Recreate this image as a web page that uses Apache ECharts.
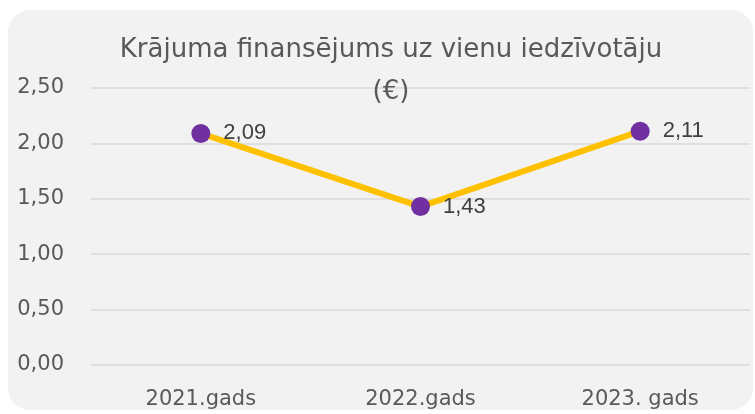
<!DOCTYPE html>
<html>
<head>
<meta charset="utf-8">
<script src="https://cdn.jsdelivr.net/npm/echarts@6/dist/echarts.min.js"></script>
<style>
  html, body { margin: 0; padding: 0; background: #fff; }
  .card {
    position: absolute; left: 8px; top: 10px;
    width: 745px; height: 400px;
    background: #f2f2f2; border-radius: 22px;
  }
  #chart { position: absolute; left: 0; top: 0; width: 755px; height: 414px; }
</style>
</head>
<body>
<div class="card"></div>
<div id="chart"></div>
<script>
const years = ['2021.gads', '2022.gads', '2023. gads']
const values = [2.09, 1.43, 2.11]
const yTicks = ['0,00', '0,50', '1,00', '1,50', '2,00', '2,50']

const fmt = v => v.toFixed(2).replace('.', ',')

const chart = echarts.init(document.getElementById('chart'))

chart.setOption({
  backgroundColor: 'transparent',
  title: {
    text: 'Krājuma finansējums uz vienu iedzīvotāju\n(€)',
    left: 386,
    top: 24,
    textAlign: 'center',
    textStyle: {
      fontFamily: 'DejaVu Sans',
      fontSize: 26,
      fontWeight: 'normal',
      color: '#595959',
      lineHeight: 42,
    },
  },
  grid: {
    left: 91,
    right: 5,
    top: 88,
    bottom: 49,
  },
  xAxis: {
    type: 'category',
    data: years,
    axisLine: { show: false },
    axisTick: { show: false },
    axisLabel: {
      margin: 24,
      fontFamily: 'DejaVu Sans',
      fontSize: 21,
      color: '#595959',
    },
  },
  yAxis: {
    type: 'value',
    min: 0,
    max: 2.5,
    interval: 0.5,
    axisLabel: {
      margin: 27,
      fontFamily: 'DejaVu Sans',
      fontSize: 21,
      color: '#595959',
      formatter: v => yTicks[Math.round(v / 0.5)],
    },
    splitLine: { lineStyle: { color: '#d9d9d9', width: 1.5 } },
  },
  series: [
    {
      type: 'line',
      data: values,
      symbol: 'circle',
      symbolSize: 19,
      lineStyle: { color: '#ffc000', width: 6 },
      itemStyle: { color: '#7030a0' },
      label: {
        show: true,
        position: 'right',
        distance: 13,
        fontFamily: 'Liberation Sans',
        fontSize: 22,
        color: '#404040',
        formatter: p => fmt(p.value),
      },
      z: 3,
    },
  ],
})
</script>
</body>
</html>
